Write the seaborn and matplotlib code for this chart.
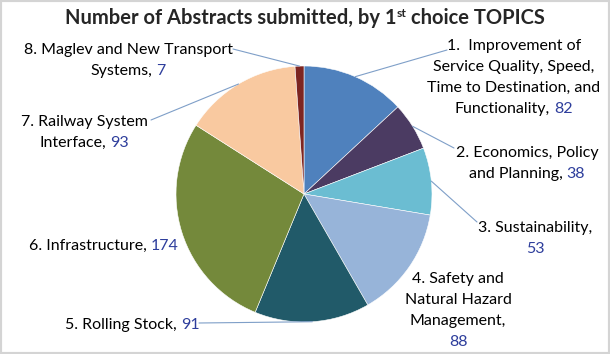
import numpy as np
import matplotlib
matplotlib.use('Agg')
import matplotlib.pyplot as plt
import seaborn as sns
from matplotlib.patches import Rectangle

sns.set_theme(style='white')
plt.rcParams['font.family'] = ['Lato', 'DejaVu Sans']

# data
labels = [
    "1.  Improvement of\nService Quality, Speed,\nTime to Destination, and\nFunctionality, {n}",
    "2. Economics, Policy\nand Planning, {n}",
    "3. Sustainability,\n{n}",
    "4. Safety and\nNatural Hazard\nManagement,\n{n}",
    "5. Rolling Stock, {n}",
    "6. Infrastructure, {n}",
    "7. Railway System\nInterface, {n}",
    "8. Maglev and New Transport\nSystems, {n}",
]
counts = [82, 38, 53, 88, 91, 174, 93, 7]
colors = ['#4f81bd', '#4b3b62', '#6bbdd2', '#97b4d9', '#215a69',
          '#74893b', '#f9c9a0', '#7d2521']
title = ("Number of Abstracts submitted, by 1", "st", " choice TOPICS")

# layout, in pixels from top-left: label centre x, first baseline, leader start
W, H = 610, 354
CX, CY, R = 304, 194, 128
label_pos = [(514, 50, (447, 50)), (527, 157, (454, 148)), (535, 232, (477, 222)),
             (458, 283, None), (132, 329, (199, 323)), (104, 250, None),
             (84, 126, (151, 120)), (128, 54, (233, 49))]
LINE = 21
FS = 11.5
NUM_COLOR = '#2e3e9c'
LEAD_COLOR = '#7f9fc8'

fig = plt.figure(figsize=(W / 100, H / 100), dpi=100)
ax = fig.add_axes([0, 0, 1, 1])
wedges, _ = ax.pie(counts, colors=colors, startangle=90, counterclock=False,
                   center=(CX, H - CY), radius=R,
                   wedgeprops=dict(edgecolor='white', linewidth=0.4))
ax.set_xlim(0, W)
ax.set_ylim(0, H)
ax.axis('off')
renderer = fig.canvas.get_renderer()


def width(s, **kw):
    t = ax.text(0, 0, s, fontsize=kw.get('fontsize', FS), fontweight=kw.get('fontweight', 'normal'))
    w = t.get_window_extent(renderer).width
    t.remove()
    return w


def put_line(cx, y, line, n):
    # draw one line centred at cx, the count in blue
    full = line.replace('{n}', str(n))
    wf = width(full)
    x0 = cx - wf / 2
    if '{n}' in line:
        pre = line.replace('{n}', '').rstrip()
        if pre:
            ax.text(x0, H - y, pre, fontsize=FS, color='black', ha='left', va='baseline')
        ax.text(x0 + wf, H - y, str(n), fontsize=FS, color=NUM_COLOR, ha='right', va='baseline')
    else:
        ax.text(cx, H - y, line, fontsize=FS, color='black', ha='center', va='baseline')


for w, lab, n, (cx, y0, anchor) in zip(wedges, labels, counts, label_pos):
    for i, line in enumerate(lab.split('\n')):
        put_line(cx, y0 + i * LINE, line, n)
    if anchor is not None:
        mid = np.deg2rad((w.theta1 + w.theta2) / 2)
        ex, ey = CX + R * np.cos(mid), (H - CY) + R * np.sin(mid)
        ax.plot([anchor[0], ex], [H - anchor[1], ey], color=LEAD_COLOR, lw=0.8)

# title with superscript
TFS = 14.5
a, b, c = title
wa = width(a, fontsize=TFS, fontweight='bold')
wb = width(b, fontsize=TFS * 0.6, fontweight='bold')
wsp = width('x x', fontsize=TFS, fontweight='bold') - width('xx', fontsize=TFS, fontweight='bold')
wc = width(c.strip(), fontsize=TFS, fontweight='bold')
tx = 305 - (wa + wb + wsp + wc) / 2
ty = H - 24
ax.text(tx, ty, a, fontsize=TFS, fontweight='bold', ha='left', va='baseline')
ax.text(tx + wa, ty + 7, b, fontsize=TFS * 0.6, fontweight='bold', ha='left', va='baseline')
ax.text(tx + wa + wb + wsp, ty, c.strip(), fontsize=TFS, fontweight='bold', ha='left', va='baseline')

fig.patches.append(Rectangle((0, 0), 1, 1, transform=fig.transFigure, fill=False,
                             edgecolor='#d4d4d4', lw=3))
fig.savefig('out.png', dpi=100)
